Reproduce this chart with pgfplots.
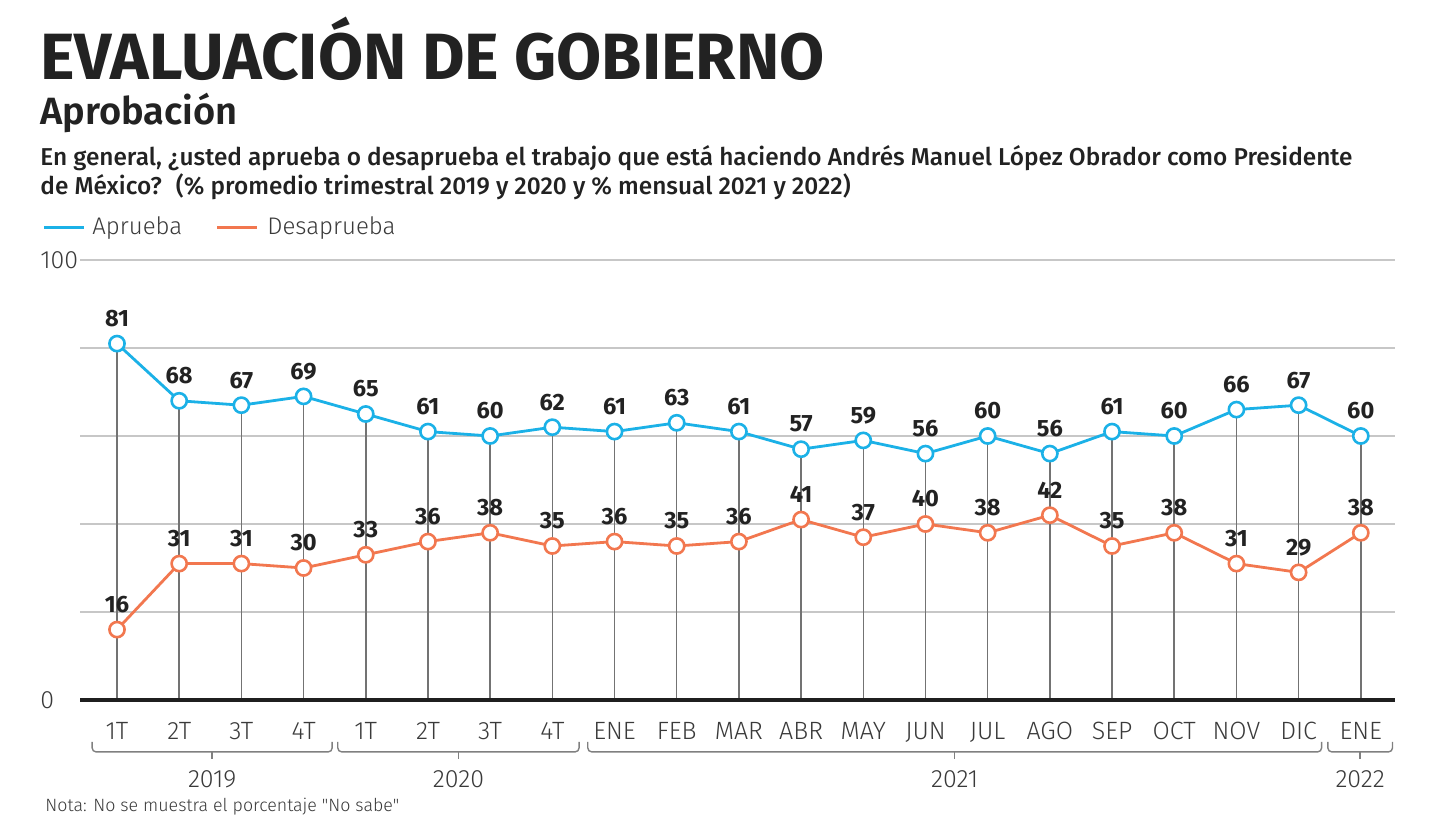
\documentclass[border=0pt]{standalone}
\usepackage{fontspec}
\setmainfont{Fira Sans}
\newfontfamily\lightfont{Fira Sans Light}
\newfontfamily\semifont{Fira Sans SemiBold}
\newfontfamily\medfont{Fira Sans Medium}
\usepackage{pgfplots}
\pgfplotsset{compat=1.18}
\definecolor{azul}{HTML}{1BB1E7}
\definecolor{naranja}{HTML}{F2774F}
\definecolor{texto}{HTML}{222222}
\definecolor{gristxt}{HTML}{3A3A3A}

\begin{document}
\begin{tikzpicture}
\fill[white] (0,0) rectangle (720pt,420pt);
\useasboundingbox (0,0) rectangle (720pt,420pt);
% titles
\node[anchor=base west, inner sep=0, font=\bfseries\fontsize{32.7}{32.7}\selectfont, text=texto] at (20pt,380pt) {EVALUACIÓN DE GOBIERNO};
\node[anchor=base west, inner sep=0, font=\semifont\fontsize{19}{19}\selectfont, text=texto] at (20pt,357.5pt) {Aprobación};
\node[anchor=base west, inner sep=0, font=\medfont\fontsize{12.2}{12.2}\selectfont, text=texto] at (20pt,337pt) {En general, ¿usted aprueba o desaprueba el trabajo que está haciendo Andrés Manuel López Obrador como Presidente};
\node[anchor=base west, inner sep=0, font=\medfont\fontsize{12.2}{12.2}\selectfont, text=texto] at (20pt,322.5pt) {de México?~ (\% promedio trimestral 2019 y 2020 y \% mensual 2021 y 2022)};
% legend
\draw[azul, line width=1.5pt] (22pt,306pt) -- (42pt,306pt);
\node[anchor=west, inner sep=0, font=\lightfont\fontsize{12}{12}\selectfont, text=gristxt] at (46pt,306pt) {Aprueba};
\draw[naranja, line width=1.5pt] (108.5pt,306pt) -- (128.5pt,306pt);
\node[anchor=west, inner sep=0, font=\lightfont\fontsize{12}{12}\selectfont, text=gristxt] at (133.5pt,306pt) {Desaprueba};
% note
\node[anchor=base west, inner sep=0, font=\lightfont\fontsize{8.9}{8.9}\selectfont, text=gristxt] at (22.5pt,14pt) {Nota: No se muestra el porcentaje "No sabe"};

\begin{axis}[
  at={(40pt,70pt)}, anchor=south west,
  scale only axis, width=657.5pt, height=220pt,
  xmin=-0.595, xmax=20.55, ymin=0, ymax=100,
  clip=false,
  axis line style={draw=none},
  tick style={draw=none},
  ytick={20,40,60,80,100}, yticklabels={},
  ymajorgrids, grid style={black!22, line width=0.6pt},
  xtick={0,...,20},
  xticklabels={1T,2T,3T,4T,1T,2T,3T,4T,ENE,FEB,MAR,ABR,MAY,JUN,JUL,AGO,SEP,OCT,NOV,DIC,ENE},
  xticklabel style={anchor=base, yshift=-20pt, font=\lightfont\fontsize{12.5}{12.5}\selectfont, text=gristxt},
  /pgf/number format/assume math mode=true,
]
% drop lines
\addplot[ycomb, draw=black!55, line width=0.75pt, mark=none] coordinates {
(0,81)(1,68)(2,67)(3,69)(4,65)(5,61)(6,60)(7,62)(8,61)(9,63)(10,61)(11,57)(12,59)(13,56)(14,60)(15,56)(16,61)(17,60)(18,66)(19,67)(20,60)};
% x axis line
\draw[line width=1.6pt, black!88] (axis cs:-0.595,0) -- (axis cs:20.55,0);
% Desaprueba
\addplot[naranja, line width=1.4pt, mark=*, mark size=3.8pt,
  mark options={fill=white, draw=naranja, line width=1.3pt},
  nodes near coords, point meta=explicit symbolic,
  every node near coord/.append style={anchor=center, yshift=12.5pt, font=\bfseries\fontsize{11.8}{11.8}\selectfont, text=texto}]
coordinates {
(0,16)[16](1,31)[31](2,31)[31](3,30)[30](4,33)[33](5,36)[36](6,38)[38](7,35)[35](8,36)[36](9,35)[35](10,36)[36](11,41)[41](12,37)[37](13,40)[40](14,38)[38](15,42)[42](16,35)[35](17,38)[38](18,31)[31](19,29)[29](20,38)[38]};
% Aprueba
\addplot[azul, line width=1.4pt, mark=*, mark size=3.8pt,
  mark options={fill=white, draw=azul, line width=1.3pt},
  nodes near coords, point meta=explicit symbolic,
  every node near coord/.append style={anchor=center, yshift=12.5pt, font=\bfseries\fontsize{11.8}{11.8}\selectfont, text=texto}]
coordinates {
(0,81)[81](1,68)[68](2,67)[67](3,69)[69](4,65)[65](5,61)[61](6,60)[60](7,62)[62](8,61)[61](9,63)[63](10,61)[61](11,57)[57](12,59)[59](13,56)[56](14,60)[60](15,56)[56](16,61)[61](17,60)[60](18,66)[66](19,67)[67](20,60)[60]};
% y labels
\node[anchor=west, inner sep=0, font=\lightfont\fontsize{12.5}{12.5}\selectfont, text=gristxt] at ([xshift=-20pt]axis cs:-0.595,0) {0};
\node[anchor=west, inner sep=0, font=\lightfont\fontsize{12.5}{12.5}\selectfont, text=gristxt] at ([xshift=-20pt]axis cs:-0.595,100) {100};
% brackets
\begin{scope}[draw=black!50, line width=0.7pt, rounded corners=2pt]
\draw (axis cs:-0.40,-9.5) -- (axis cs:-0.40,-11.8) -- (axis cs:3.46,-11.8) -- (axis cs:3.46,-9.5);
\draw (axis cs:3.55,-9.5) -- (axis cs:3.55,-11.8) -- (axis cs:7.43,-11.8) -- (axis cs:7.43,-9.5);
\draw (axis cs:7.57,-9.5) -- (axis cs:7.57,-11.8) -- (axis cs:19.37,-11.8) -- (axis cs:19.37,-9.5);
\draw (axis cs:19.47,-9.5) -- (axis cs:19.47,-11.8) -- (axis cs:20.51,-11.8) -- (axis cs:20.51,-9.5);
\end{scope}
\begin{scope}[draw=black!50, line width=0.7pt]
\draw (axis cs:1.53,-11.8) -- (axis cs:1.53,-13.4);
\draw (axis cs:5.49,-11.8) -- (axis cs:5.49,-13.4);
\draw (axis cs:13.47,-11.8) -- (axis cs:13.47,-13.4);
\draw (axis cs:19.99,-11.8) -- (axis cs:19.99,-13.4);
\end{scope}
\node[anchor=base, inner sep=0, font=\lightfont\fontsize{12.5}{12.5}\selectfont, text=gristxt] at (axis cs:1.53,-19.8) {2019};
\node[anchor=base, inner sep=0, font=\lightfont\fontsize{12.5}{12.5}\selectfont, text=gristxt] at (axis cs:5.49,-19.8) {2020};
\node[anchor=base, inner sep=0, font=\lightfont\fontsize{12.5}{12.5}\selectfont, text=gristxt] at (axis cs:13.47,-19.8) {2021};
\node[anchor=base, inner sep=0, font=\lightfont\fontsize{12.5}{12.5}\selectfont, text=gristxt] at (axis cs:19.99,-19.8) {2022};
\end{axis}
\end{tikzpicture}
\end{document}
